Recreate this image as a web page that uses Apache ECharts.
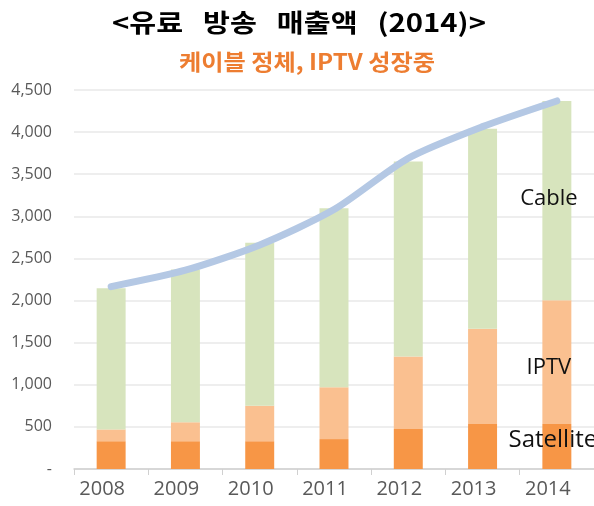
<!DOCTYPE html>
<html>
<head>
<meta charset="utf-8">
<script src="https://cdn.jsdelivr.net/npm/echarts@6/dist/echarts.min.js"></script>
<style>
  html, body { margin: 0; padding: 0; background: #fff; }
  #main { width: 594px; height: 506px; }
</style>
</head>
<body>
<div id="main"></div>
<script>
const years = ['2008', '2009', '2010', '2011', '2012', '2013', '2014'];
const satellite = [330, 330, 330, 355, 475, 535, 535];
const iptv = [140, 225, 420, 615, 860, 1130, 1470];
const cable = [1675, 1815, 1935, 2125, 2315, 2375, 2365];
// totals
const totalLine = [2165, 2360, 2660, 3080, 3690, 4065, 4370];

const chartTitle = '<유료   방송   매출액   (2014)>';
const chartSubtitle = '케이블 정체, IPTV 성장중';

const chartDom = document.getElementById('main');
const myChart = echarts.init(chartDom);

// name label only on the last bar of each stack
function lastLabel(values, name, offset, size) {
    return values.map((v, i) => i === values.length - 1 ? {
        value: v,
        label: {
            show: true,
            position: 'inside',
            formatter: name,
            offset: offset,
            color: '#111',
            fontSize: size,
            fontFamily: 'Open Sans'
        }
    } : v);
}

const option = {
    animation: false,
    graphic: [
        {
            type: 'text',
            x: 299,
            y: 22,
            scaleX: 1.17,
            style: {
                text: chartTitle,
                align: 'center',
                verticalAlign: 'middle',
                font: 'bold 25px "Noto Sans CJK KR"',
                fill: '#000'
            }
        },
        {
            type: 'text',
            x: 307,
            y: 62,
            scaleX: 1.1,
            style: {
                text: chartSubtitle,
                align: 'center',
                verticalAlign: 'middle',
                font: 'bold 22px "Noto Sans CJK KR"',
                fill: '#ED7D31'
            }
        }
    ],
    grid: {
        left: 74,
        right: 0,
        top: 90,
        bottom: 37
    },
    xAxis: {
        type: 'category',
        data: years,
        axisLine: { lineStyle: { color: '#d0d0d0', width: 1.5 } },
        axisTick: { show: true, length: 6, lineStyle: { color: '#d0d0d0' } },
        axisLabel: {
            color: '#595959',
            fontSize: 20,
            margin: 10,
            padding: [0, 18, 0, 0],
            fontFamily: 'Open Sans'
        }
    },
    yAxis: {
        type: 'value',
        min: 0,
        max: 4500,
        interval: 500,
        axisLine: { show: false },
        axisTick: { show: false },
        splitLine: { lineStyle: { color: '#e8e8e8', width: 1.5 } },
        axisLabel: {
            color: '#595959',
            fontSize: 16,
            margin: 22,
            fontFamily: 'Open Sans',
            formatter: v => v === 0 ? '-' : v.toLocaleString('en-US')
        }
    },
    series: [
        {
            name: 'Satellite',
            type: 'bar',
            stack: 'total',
            barWidth: '39%',
            itemStyle: { color: '#F79646' },
            data: lastLabel(satellite, 'Satellite', [-4, -6], 24)
        },
        {
            name: 'IPTV',
            type: 'bar',
            stack: 'total',
            itemStyle: { color: '#FAC090' },
            data: lastLabel(iptv, 'IPTV', [-8, 6], 22)
        },
        {
            name: 'Cable',
            type: 'bar',
            stack: 'total',
            itemStyle: { color: '#D7E4BD' },
            data: lastLabel(cable, 'Cable', [-8, -2], 22)
        },
        {
            name: 'Total',
            type: 'line',
            smooth: 0.25,
            symbol: 'none',
            lineStyle: { color: '#B4C8E4', width: 7, cap: 'round' },
            data: totalLine,
            z: 5
        }
    ]
};

myChart.setOption(option);

window.addEventListener('resize', () => {
    myChart.resize();
});
</script>
</body>
</html>
